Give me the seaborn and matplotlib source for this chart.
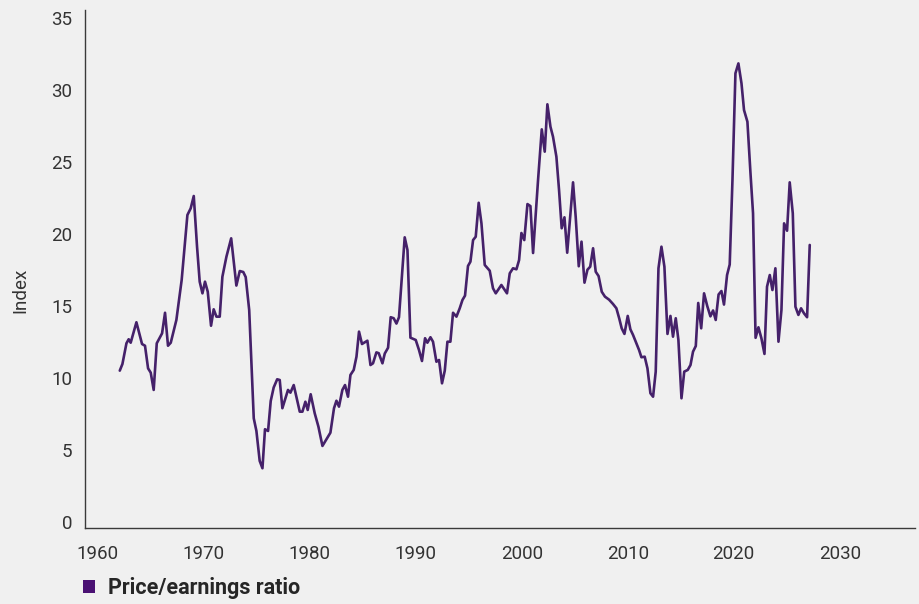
import matplotlib
matplotlib.use("Agg")
import matplotlib.pyplot as plt
from matplotlib.patches import Patch
import seaborn as sns
import pandas as pd

years = [
    1962.08, 1962.33, 1962.71, 1962.92, 1963.11, 1963.65, 1964.18, 1964.46, 1964.75, 1965.00,
    1965.28, 1965.57, 1966.07, 1966.35, 1966.63, 1966.89, 1967.42, 1967.92, 1968.46, 1968.77,
    1969.06, 1969.37, 1969.62, 1969.88, 1970.12, 1970.38, 1970.69, 1970.94, 1971.20, 1971.51,
    1971.76, 1972.14, 1972.59, 1973.08, 1973.40, 1973.73, 1973.96, 1974.29, 1974.72, 1974.97,
    1975.28, 1975.54, 1975.78, 1976.07, 1976.32, 1976.60, 1976.93, 1977.17, 1977.42, 1977.95,
    1978.18, 1978.49, 1979.06, 1979.31, 1979.59, 1979.81, 1980.09, 1980.47, 1980.82, 1981.20,
    1981.95, 1982.29, 1982.52, 1982.76, 1983.08, 1983.33, 1983.61, 1983.84, 1984.15, 1984.41,
    1984.65, 1984.93, 1985.44, 1985.73, 1985.97, 1986.29, 1986.51, 1986.86, 1987.08, 1987.39,
    1987.64, 1987.92, 1988.18, 1988.42, 1988.96, 1989.22, 1989.50, 1990.00, 1990.31, 1990.59,
    1990.88, 1991.10, 1991.39, 1991.63, 1991.95, 1992.20, 1992.48, 1992.74, 1992.99, 1993.27,
    1993.52, 1993.84, 1994.15, 1994.41, 1994.65, 1994.93, 1995.16, 1995.41, 1995.66, 1995.94,
    1996.20, 1996.51, 1996.98, 1997.29, 1997.55, 1998.08, 1998.61, 1998.87, 1999.18, 1999.50,
    1999.75, 1999.97, 2000.24, 2000.54, 2000.82, 2001.07, 2001.54, 2001.89, 2002.17, 2002.42,
    2002.71, 2002.95, 2003.27, 2003.52, 2003.77, 2004.03, 2004.29, 2004.84, 2005.09, 2005.38,
    2005.64, 2005.92, 2006.20, 2006.46, 2006.73, 2006.98, 2007.25, 2007.55, 2007.85, 2008.24,
    2008.61, 2008.93, 2009.20, 2009.43, 2009.69, 2010.00, 2010.25, 2010.50, 2010.82, 2011.07,
    2011.29, 2011.60, 2011.86, 2012.14, 2012.39, 2012.64, 2012.90, 2013.18, 2013.46, 2013.75,
    2014.03, 2014.27, 2014.53, 2014.78, 2015.07, 2015.33, 2015.66, 2015.92, 2016.16, 2016.42,
    2016.65, 2016.93, 2017.20, 2017.50, 2017.80, 2018.05, 2018.30, 2018.57, 2018.84, 2019.08,
    2019.37, 2019.62, 2019.88, 2020.16, 2020.44, 2020.73, 2020.97, 2021.29, 2021.58, 2021.82,
    2022.06, 2022.33, 2022.61, 2022.90, 2023.14, 2023.40, 2023.65, 2023.93, 2024.22, 2024.50,
    2024.75, 2025.03, 2025.28, 2025.57, 2025.82, 2026.10, 2026.35, 2026.63, 2026.92, 2027.17,
]

pe_ratio = [
    10.51, 10.97, 12.41, 12.69, 12.45, 13.87, 12.36, 12.24, 10.67, 10.37,
    9.17, 12.41, 13.10, 14.53, 12.24, 12.45, 14.03, 16.81, 21.32, 21.78,
    22.64, 19.12, 16.69, 15.88, 16.69, 15.99, 13.63, 14.77, 14.26, 14.26,
    17.03, 18.42, 19.70, 16.42, 17.43, 17.36, 17.01, 14.72, 7.20, 6.32,
    4.24, 3.73, 6.44, 6.32, 8.40, 9.34, 9.91, 9.86, 7.90, 9.17,
    8.98, 9.51, 7.66, 7.66, 8.35, 7.78, 8.87, 7.55, 6.62, 5.28,
    6.20, 7.90, 8.42, 8.01, 9.17, 9.51, 8.70, 10.21, 10.56, 11.48,
    13.22, 12.36, 12.59, 10.90, 11.02, 11.78, 11.72, 11.02, 11.70, 12.10,
    14.22, 14.15, 13.78, 14.22, 19.77, 18.89, 12.80, 12.64, 11.94, 11.18,
    12.76, 12.45, 12.83, 12.52, 11.13, 11.25, 9.63, 10.51, 12.52, 12.52,
    14.53, 14.26, 14.84, 15.42, 15.72, 17.78, 18.08, 19.58, 19.81, 22.17,
    20.74, 17.85, 17.45, 16.23, 15.88, 16.46, 15.88, 17.27, 17.62, 17.55,
    18.19, 20.07, 19.58, 22.08, 21.94, 18.68, 23.75, 27.27, 25.72, 29.01,
    27.45, 26.76, 25.37, 23.06, 20.40, 21.16, 18.70, 23.59, 21.20, 17.76,
    19.47, 16.62, 17.52, 17.73, 19.01, 17.38, 17.08, 15.99, 15.65, 15.44,
    15.14, 14.84, 14.13, 13.45, 13.06, 14.31, 13.38, 12.99, 12.41, 11.94,
    11.44, 11.48, 10.67, 8.94, 8.70, 10.44, 17.62, 19.12, 17.73, 13.06,
    14.31, 12.87, 14.15, 12.64, 8.59, 10.44, 10.56, 10.90, 11.83, 12.22,
    15.21, 13.45, 15.88, 15.00, 14.28, 14.69, 14.03, 15.80, 16.04, 15.10,
    17.15, 17.88, 23.75, 31.16, 31.85, 30.47, 28.61, 27.80, 24.22, 21.44,
    12.79, 13.52, 12.76, 11.67, 16.34, 17.15, 16.11, 17.62, 12.52, 14.72,
    20.74, 20.23, 23.59, 21.44, 14.95, 14.38, 14.84, 14.49, 14.22, 19.24,
]

x_ticks = [1960, 1970, 1980, 1990, 2000, 2010, 2020, 2030]
y_ticks = [0, 5, 10, 15, 20, 25, 30, 35]
series_name = "Price/earnings ratio"
y_label = "Index"

df = pd.DataFrame({"year": years, "value": pe_ratio})

sns.set_style("white")
plt.rcParams["font.family"] = ["Roboto", "DejaVu Sans"]

BG = "#f0f0f0"
LINE = "#45216a"
TEXT = "#333333"

fig = plt.figure(figsize=(9.19, 6.04), dpi=100, facecolor=BG)
ax = fig.add_axes([85 / 919, 76 / 604, 830 / 919, 518 / 604])
ax.set_facecolor(BG)

sns.lineplot(data=df, x="year", y="value", ax=ax, color=LINE, linewidth=1.9,
             legend=False)

ax.set_xlim(1958.8, 2037.1)
ax.set_ylim(-0.42, 35.56)
ax.set_xticks(x_ticks)
ax.set_yticks(y_ticks)
ax.set_xticklabels([str(t) for t in x_ticks])
ax.set_yticklabels([str(t) for t in y_ticks])
ax.tick_params(axis="both", length=0, labelsize=13.5, colors=TEXT)
ax.tick_params(axis="x", pad=12)
ax.tick_params(axis="y", pad=9)
ax.set_xlabel("")
ax.set_ylabel("")
for s in ["top", "right"]:
    ax.spines[s].set_visible(False)
for s in ["left", "bottom"]:
    ax.spines[s].set_color("#3a3a3a")
    ax.spines[s].set_linewidth(1.0)
ax.grid(False)

fig.text(20 / 919, 1 - 290 / 604, y_label, rotation=90, ha="center", va="center",
         fontsize=13.5, color=TEXT)

handle = Patch(facecolor="#4a1173", edgecolor="none", label=series_name)
fig.legend(handles=[handle], loc="center left",
           bbox_to_anchor=(83 / 919, 1 - 588 / 604), frameon=False,
           handlelength=0.56, handleheight=0.56, handletextpad=0.6,
           borderpad=0, borderaxespad=0,
           prop={"weight": "bold", "size": 15.5})

fig.savefig("out.png", dpi=100, facecolor=BG)
